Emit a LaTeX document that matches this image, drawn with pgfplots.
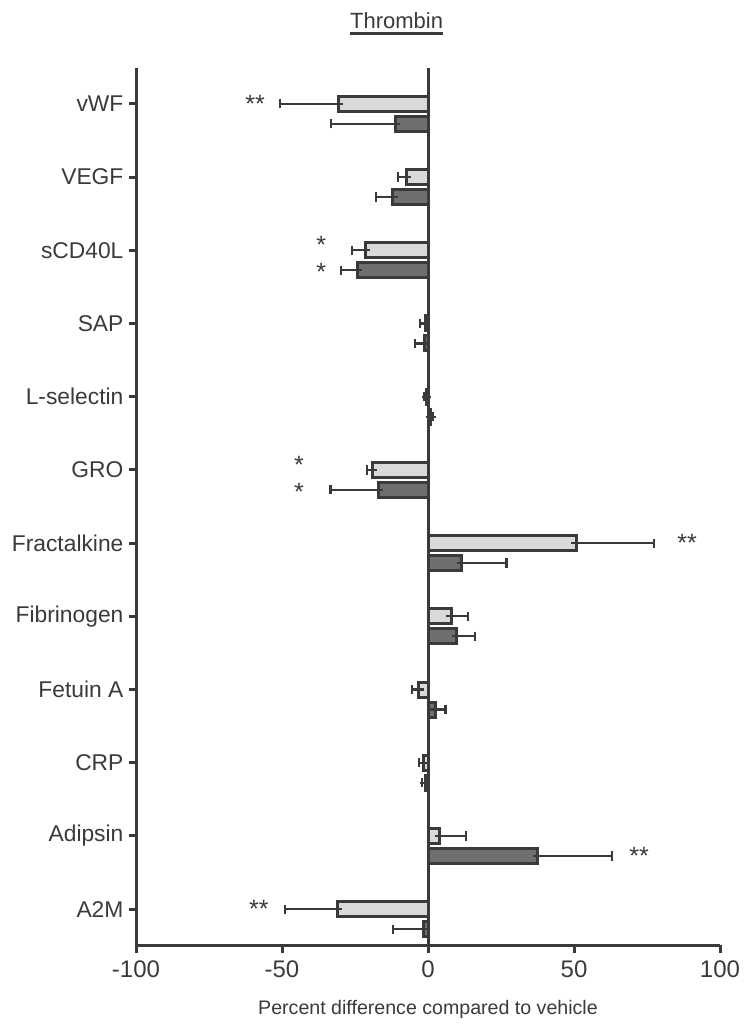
\documentclass[border=0pt]{standalone}
\usepackage{fontspec}
\setmainfont{Liberation Sans}
\usepackage{pgfplots}
\usepackage{pgfplotstable}
\pgfplotsset{compat=1.18}
\definecolor{edge}{HTML}{3A3A3A}
\definecolor{lightbar}{HTML}{D9D9D9}
\definecolor{darkbar}{HTML}{6F6F6F}

% y = category position (A2M=0 ... vWF=11), v = value, ep/em = error plus/minus
\pgfplotstableread{
y v ep em
11 -30.6 0 20.0
10 -7.3 0 3.0
9 -21.5 0 4.5
8 -1.0 0 1.7
7 -0.4 0 1.0
6 -19.0 0 2.0
5 50.7 26.8 0
4 7.9 5.9 0
3 -3.1 0 2.5
2 -1.5 0 1.5
1 3.9 9.0 0
0 -31.1 0 18.0
}\lighttab

\pgfplotstableread{
y v ep em
10.727 -11.3 0 21.8
9.727 -12.0 0 5.7
8.727 -24.3 0 5.4
7.727 -1.3 0 3.1
6.727 1.0 0.8 0
5.727 -17.0 0 16.4
4.727 11.5 15.4 0
3.727 9.8 6.2 0
2.727 2.4 3.6 0
1.727 -1.0 0 1.1
0.727 37.6 25.4 0
-0.273 -1.7 0 10.4
}\darktab

\begin{document}
\begin{tikzpicture}
\path[use as bounding box] (0,0) rectangle (377pt,-516pt);
\node[anchor=base, inner sep=0pt, text=edge, font=\fontsize{11}{13}\selectfont] (t) at (198.3pt,-14.4pt) {Thrombin};
\draw[line width=1.4pt, edge] ([yshift=-2.4pt]t.base west) -- ([yshift=-2.4pt]t.base east);
\begin{axis}[
    at={(68pt,-472.5pt)}, anchor=south west,
    scale only axis, width=292pt, height=438.5pt,
    xmin=-100, xmax=100, ymin=-0.49, ymax=11.49,
    axis lines*=left,
    axis line style={line width=1.5pt, edge},
    xtick={-100,-50,0,50,100},
    ytick={0,...,11},
    yticklabels={A2M,Adipsin,CRP,Fetuin A,Fibrinogen,Fractalkine,GRO,L-selectin,SAP,sCD40L,VEGF,vWF},
    tick align=outside,
    xtick style={line width=1.5pt, edge, /pgfplots/major tick length=4pt},
    ytick style={line width=1.5pt, edge, /pgfplots/major tick length=3.5pt},
    x tick label style={font=\fontsize{12}{14}\selectfont, text=edge},
    y tick label style={font=\fontsize{11.4}{14}\selectfont, text=edge, xshift=1.5pt},
    /pgf/number format/assume math mode=true,
    xlabel={Percent difference compared to vehicle},
    xlabel style={font=\fontsize{9.8}{12}\selectfont, text=edge, yshift=4pt},
    extra x ticks={0}, extra x tick labels={},
    extra x tick style={grid=major, major grid style={line width=1.5pt, edge}},
    xbar, bar shift=0pt, bar width=0.205,
    error bars/error bar style={line width=1.1pt, edge},
    error bars/error mark options={line width=1.1pt, edge, mark size=2.3pt, rotate=90},
    clip=false,
]
\addplot[fill=lightbar, draw=edge, line width=1.5pt,
    error bars/.cd, x dir=both, x explicit]
    table[x=v, y=y, x error plus=ep, x error minus=em] {\lighttab};
\addplot[fill=darkbar, draw=edge, line width=1.5pt,
    error bars/.cd, x dir=both, x explicit]
    table[x=v, y=y, x error plus=ep, x error minus=em] {\darktab};

\begin{scope}[every node/.style={font=\fontsize{12.5}{14}\selectfont, text=edge, inner sep=0pt}]
\node at (axis cs:-59.2,11) {**};
\node at (axis cs:-36.6,9.07) {*};
\node at (axis cs:-36.6,8.70) {*};
\node at (axis cs:-44.2,6.07) {*};
\node at (axis cs:-44.2,5.70) {*};
\node at (axis cs:88.7,5) {**};
\node at (axis cs:72.3,0.727) {**};
\node at (axis cs:-57.9,0) {**};
\end{scope}
\end{axis}
\end{tikzpicture}
\end{document}
